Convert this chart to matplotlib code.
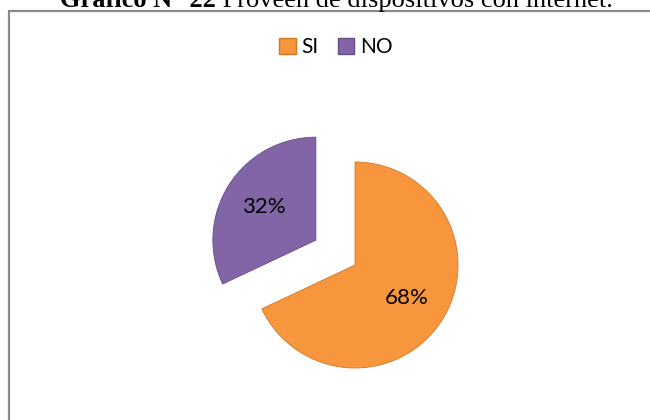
import matplotlib.pyplot as plt
from matplotlib.patches import Rectangle, Patch

# data
labels = ['SI', 'NO']
values = [68, 32]
colors = ['#F7963C', '#8265A6']
edges = ['#D0772A', '#664C88']

W, H = 650, 420
R = 103.0          # pie radius in px
cx, cy = 355, 265  # pie centre (px from top-left)

fig = plt.figure(figsize=(6.5, 4.2), dpi=100)
ax = fig.add_axes([0, 0, 1, 1])

wedges, texts, autotexts = ax.pie(values, colors=colors, startangle=90, counterclock=False,
                                  explode=[0, 0.45], autopct='%1.0f%%', pctdistance=0.6,
                                  wedgeprops=dict(linewidth=0.6), frame=True,
                                  textprops=dict(fontsize=16, family='Lato', color='black'))
for w, e in zip(wedges, edges):
    w.set_edgecolor(e)
ax.set_xlim(-cx / R, (W - cx) / R)
ax.set_ylim(-(H - cy) / R, cy / R)
ax.set_aspect('auto')
ax.axis('off')

# chart border (only left/top visible)
fig.patches.append(Rectangle((8.5 / W, -0.1), 1.2, (H - 10.5) / H + 0.1, transform=fig.transFigure,
                             fill=False, edgecolor='#8a8a8a', linewidth=1.6))

# legend
handles = [Patch(facecolor=c, edgecolor=e) for c, e in zip(colors, edges)]
fig.legend(handles, labels, loc='center', bbox_to_anchor=(336 / W, 1 - 47 / H), ncol=2,
           frameon=False, prop=dict(family='Lato', size=15), handlelength=0.8, handleheight=0.8,
           handletextpad=0.3, columnspacing=0.9)

# title, cut at the top like the reference
t1 = fig.text(60 / W, 1 - 7 / H, 'Gráfico N° 22', family='Liberation Serif', fontsize=19,
              fontweight='bold', va='baseline', ha='left')
t2 = fig.text(0, 0, ' Proveen de dispositivos con internet.', family='Liberation Serif', fontsize=19,
              va='baseline', ha='left')
fig.canvas.draw()
bb = t1.get_window_extent()
t2.set_position((bb.x1 / W, 1 - 7 / H))

fig.savefig('out.png', dpi=100)
